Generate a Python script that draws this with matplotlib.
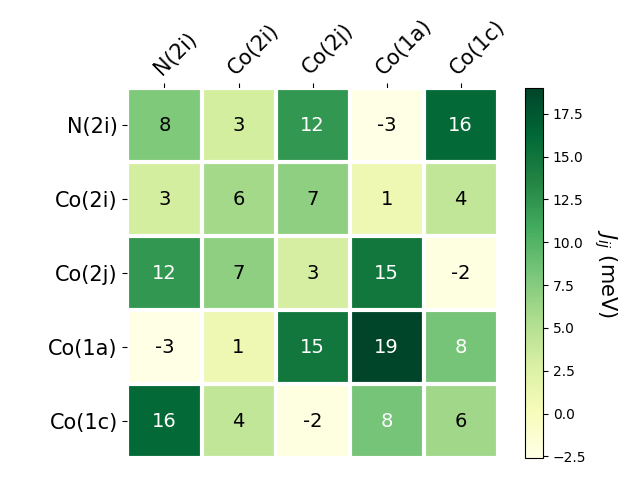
import matplotlib.pyplot as plt
import numpy as np

sites = ["N(2i)", "Co(2i)", "Co(2j)", "Co(1a)", "Co(1c)"]

# exchange couplings J_ij in meV (symmetric)
row_n2i = [7.8, 3.1, 12.2, -2.6, 16.1]
row_co2i = [3.1, 6.0, 7.1, 0.9, 4.2]
row_co2j = [12.2, 7.1, 3.0, 14.8, -2.3]
row_co1a = [-2.6, 0.9, 14.8, 19.0, 8.3]
row_co1c = [16.1, 4.2, -2.3, 8.3, 6.1]

J = np.array([row_n2i, row_co2i, row_co2j, row_co1a, row_co1c])

fig, ax = plt.subplots()

im = ax.imshow(J, cmap="YlGn")
cbar = ax.figure.colorbar(im, ax=ax)
cbar.ax.set_ylabel(r"$J_{ij}$ (meV)", rotation=-90, va="bottom", fontsize=15)

ax.set_xticks(np.arange(J.shape[1]), labels=sites, fontsize=15)
ax.set_yticks(np.arange(J.shape[0]), labels=sites, fontsize=15)
ax.tick_params(top=True, bottom=False, labeltop=True, labelbottom=False)
plt.setp(ax.get_xticklabels(), rotation=45, ha="left", rotation_mode="anchor")

ax.spines[:].set_visible(False)
ax.set_xticks(np.arange(J.shape[1] + 1) - .5, minor=True)
ax.set_yticks(np.arange(J.shape[0] + 1) - .5, minor=True)
ax.grid(which="minor", color="w", linestyle='-', linewidth=3)
ax.tick_params(which="minor", bottom=False, left=False)

# annotate cells, white text on the dark half
threshold = im.norm(J.max()) / 2.
for i in range(J.shape[0]):
    for j in range(J.shape[1]):
        col = "white" if im.norm(J[i, j]) > threshold else "black"
        ax.text(j, i, "{:.0f}".format(J[i, j]), ha="center", va="center",
                color=col, fontsize=14)

fig.tight_layout()
plt.savefig("out.png")
